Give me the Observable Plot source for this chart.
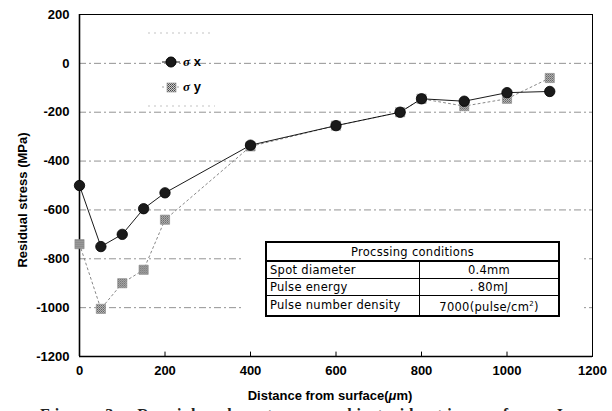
<!DOCTYPE html>
<html>
<head>
<meta charset="utf-8">
<script src="https://cdn.jsdelivr.net/npm/d3@7"></script>
<script src="https://cdn.jsdelivr.net/npm/@observablehq/plot@0.6"></script>
<style>
  html, body { margin: 0; padding: 0; background: #fff; }
  #wrap { position: relative; width: 612px; height: 411px; overflow: hidden; font-family: "Liberation Sans", Arial, sans-serif; }
  #chart svg { display: block; }
  .ylab { position: absolute; left: 22px; top: 200px; transform: translate(-50%, -50%) rotate(-90deg); font-weight: bold; font-size: 13px; white-space: nowrap; }
  .xlab { position: absolute; left: 330px; top: 388px; transform: translateX(-50%); font-weight: bold; font-size: 13px; white-space: nowrap; }
  .caption { position: absolute; left: 40px; top: 406px; font-family: "Liberation Serif", serif; font-weight: bold; font-size: 16px; letter-spacing: 5px; word-spacing: 10px; white-space: nowrap; color: #222; }
  #tbox { position: absolute; left: 242px; top: 232px; width: 340px; height: 96px; background: #fff; }
  table.cond { position: absolute; left: 265px; top: 241px; width: 295px; border-collapse: collapse; border: 2px solid #000; font-family: "DejaVu Sans", sans-serif; font-size: 11.5px; letter-spacing: 0.3px; }
  table.cond td { border: 1px solid #000; height: 16px; padding: 0 3px; line-height: 16px; }
  table.cond tr.h td { text-align: center; border-bottom: 2px solid #000; height: 17px; }
  table.cond td.v { text-align: center; width: 132px; }
  #legend { position: absolute; left: 140px; top: 30px; }
</style>
</head>
<body>
<div id="wrap">
  <div id="chart"></div>
  <div id="tbox"></div>
  <div id="tablewrap"></div>
  <svg id="legend" width="110" height="80"></svg>
  <div class="ylab">Residual stress (MPa)</div>
  <div class="xlab">Distance from surface(<span style="font-style:italic">μ</span>m)</div>
  <div class="caption">Fig. 3  Residual stress distribution for Inconel 600</div>
</div>
<script>
// ---- data ----
const depth = [0, 50, 100, 150, 200, 400, 600, 750, 800, 900, 1000, 1100];
const sigmaX = [-500, -750, -700, -595, -530, -335, -255, -200, -145, -155, -120, -115];
const sigmaY = [-740, -1005, -900, -845, -640, -340, -255, -200, -145, -175, -145, -60];
const xTicks = [0, 200, 400, 600, 800, 1000, 1200];
const yTicks = [200, 0, -200, -400, -600, -800, -1000, -1200];
const gridY = [0, -200, -400, -600, -800, -1000];
const seriesNames = ["σ x", "σ y"];
const condHeader = "Procssing conditions";
const condNames = ["Spot diameter", "Pulse energy", "Pulse number density"];
const condValues = ["0.4mm", ". 80mJ", "7000(pulse/cm<sup style='font-size:7px'>2</sup>)"];

const rowsX = depth.map((d, i) => ({x: d, y: sigmaX[i]}));
const rowsY = depth.map((d, i) => ({x: d, y: sigmaY[i]}));

const plot = Plot.plot({
  width: 612,
  height: 411,
  marginLeft: 79,
  marginRight: 20,
  marginTop: 14,
  marginBottom: 55,
  style: {fontFamily: "Liberation Sans, Arial, sans-serif", fontSize: "13px", fontWeight: "600", color: "#000", background: "#fff"},
  x: {domain: [0, 1200], ticks: xTicks, tickSize: 0, tickPadding: 9, label: null, tickFormat: d => String(d)},
  y: {domain: [-1200, 200], ticks: yTicks, tickSize: 0, tickPadding: 10, label: null, tickFormat: d => String(d)},
  marks: [
    Plot.ruleY(gridY, {stroke: "#777", strokeWidth: 0.8, strokeDasharray: "7 3 2 3"}),
    Plot.frame({stroke: "#000", strokeWidth: 1}),
    Plot.ruleX([0], {stroke: "#000", strokeWidth: 1.6}),
    Plot.ruleY([-1200], {stroke: "#000", strokeWidth: 1.6}),
    Plot.ruleX(xTicks.slice(1, -1), {y1: -1200, y2: -1182, stroke: "#000", strokeWidth: 1}),
    Plot.line(rowsY, {x: "x", y: "y", stroke: "#888", strokeWidth: 1, strokeDasharray: "2 3"}),
    Plot.line(rowsX, {x: "x", y: "y", stroke: "#000", strokeWidth: 0.9}),
    Plot.dot(rowsY, {x: "x", y: "y", symbol: "square", r: 5.2, fill: "url(#chk)", stroke: "#888", strokeWidth: 0.6}),
    Plot.dot(rowsX, {x: "x", y: "y", r: 5.2, fill: "#1a1a1a", stroke: "#000", strokeWidth: 0.8})
  ]
});

// checkered pattern for sigma-y squares
const ns = "http://www.w3.org/2000/svg";
function addPattern(svg) {
  const defs = document.createElementNS(ns, "defs");
  defs.innerHTML = `<pattern id="chk" width="2" height="2" patternUnits="userSpaceOnUse">
    <rect width="2" height="2" fill="#cfcfcf"/><rect width="1" height="1" fill="#444"/><rect x="1" y="1" width="1" height="1" fill="#666"/></pattern>`;
  svg.insertBefore(defs, svg.firstChild);
}
addPattern(plot);
document.getElementById("chart").appendChild(plot);

// legend
const lg = document.getElementById("legend");
lg.innerHTML = `
  <defs><pattern id="chk2" width="2" height="2" patternUnits="userSpaceOnUse">
    <rect width="2" height="2" fill="#cfcfcf"/><rect width="1" height="1" fill="#444"/><rect x="1" y="1" width="1" height="1" fill="#666"/></pattern></defs>
  <line x1="8" x2="70" y1="3" y2="3" stroke="#aaa" stroke-dasharray="2 4" stroke-width="0.7"/>
  <line x1="8" x2="75" y1="76" y2="76" stroke="#aaa" stroke-dasharray="2 4" stroke-width="0.7"/>
  <line x1="22" x2="40" y1="32" y2="32" stroke="#000" stroke-width="0.9"/>
  <circle cx="31" cy="32" r="5" fill="#1a1a1a" stroke="#000"/>
  <text x="43" y="36" font-size="13" font-family="Liberation Sans, Arial" font-weight="bold"><tspan font-style="italic" font-family="Liberation Serif">σ</tspan> x</text>
  <line x1="22" x2="40" y1="57" y2="57" stroke="#999" stroke-dasharray="2 3" stroke-width="0.9"/>
  <rect x="27" y="53" width="9" height="9" fill="url(#chk2)" stroke="#888" stroke-width="0.6"/>
  <text x="43" y="61" font-size="13" font-family="Liberation Sans, Arial" font-weight="bold"><tspan font-style="italic" font-family="Liberation Serif">σ</tspan> y</text>`;

// conditions table
let html = `<table class="cond"><tr class="h"><td colspan="2">${condHeader}</td></tr>`;
condNames.forEach((n, i) => { html += `<tr><td>${n}</td><td class="v">${condValues[i]}</td></tr>`; });
html += `</table>`;
document.getElementById("tablewrap").innerHTML = html;
</script>
</body>
</html>
